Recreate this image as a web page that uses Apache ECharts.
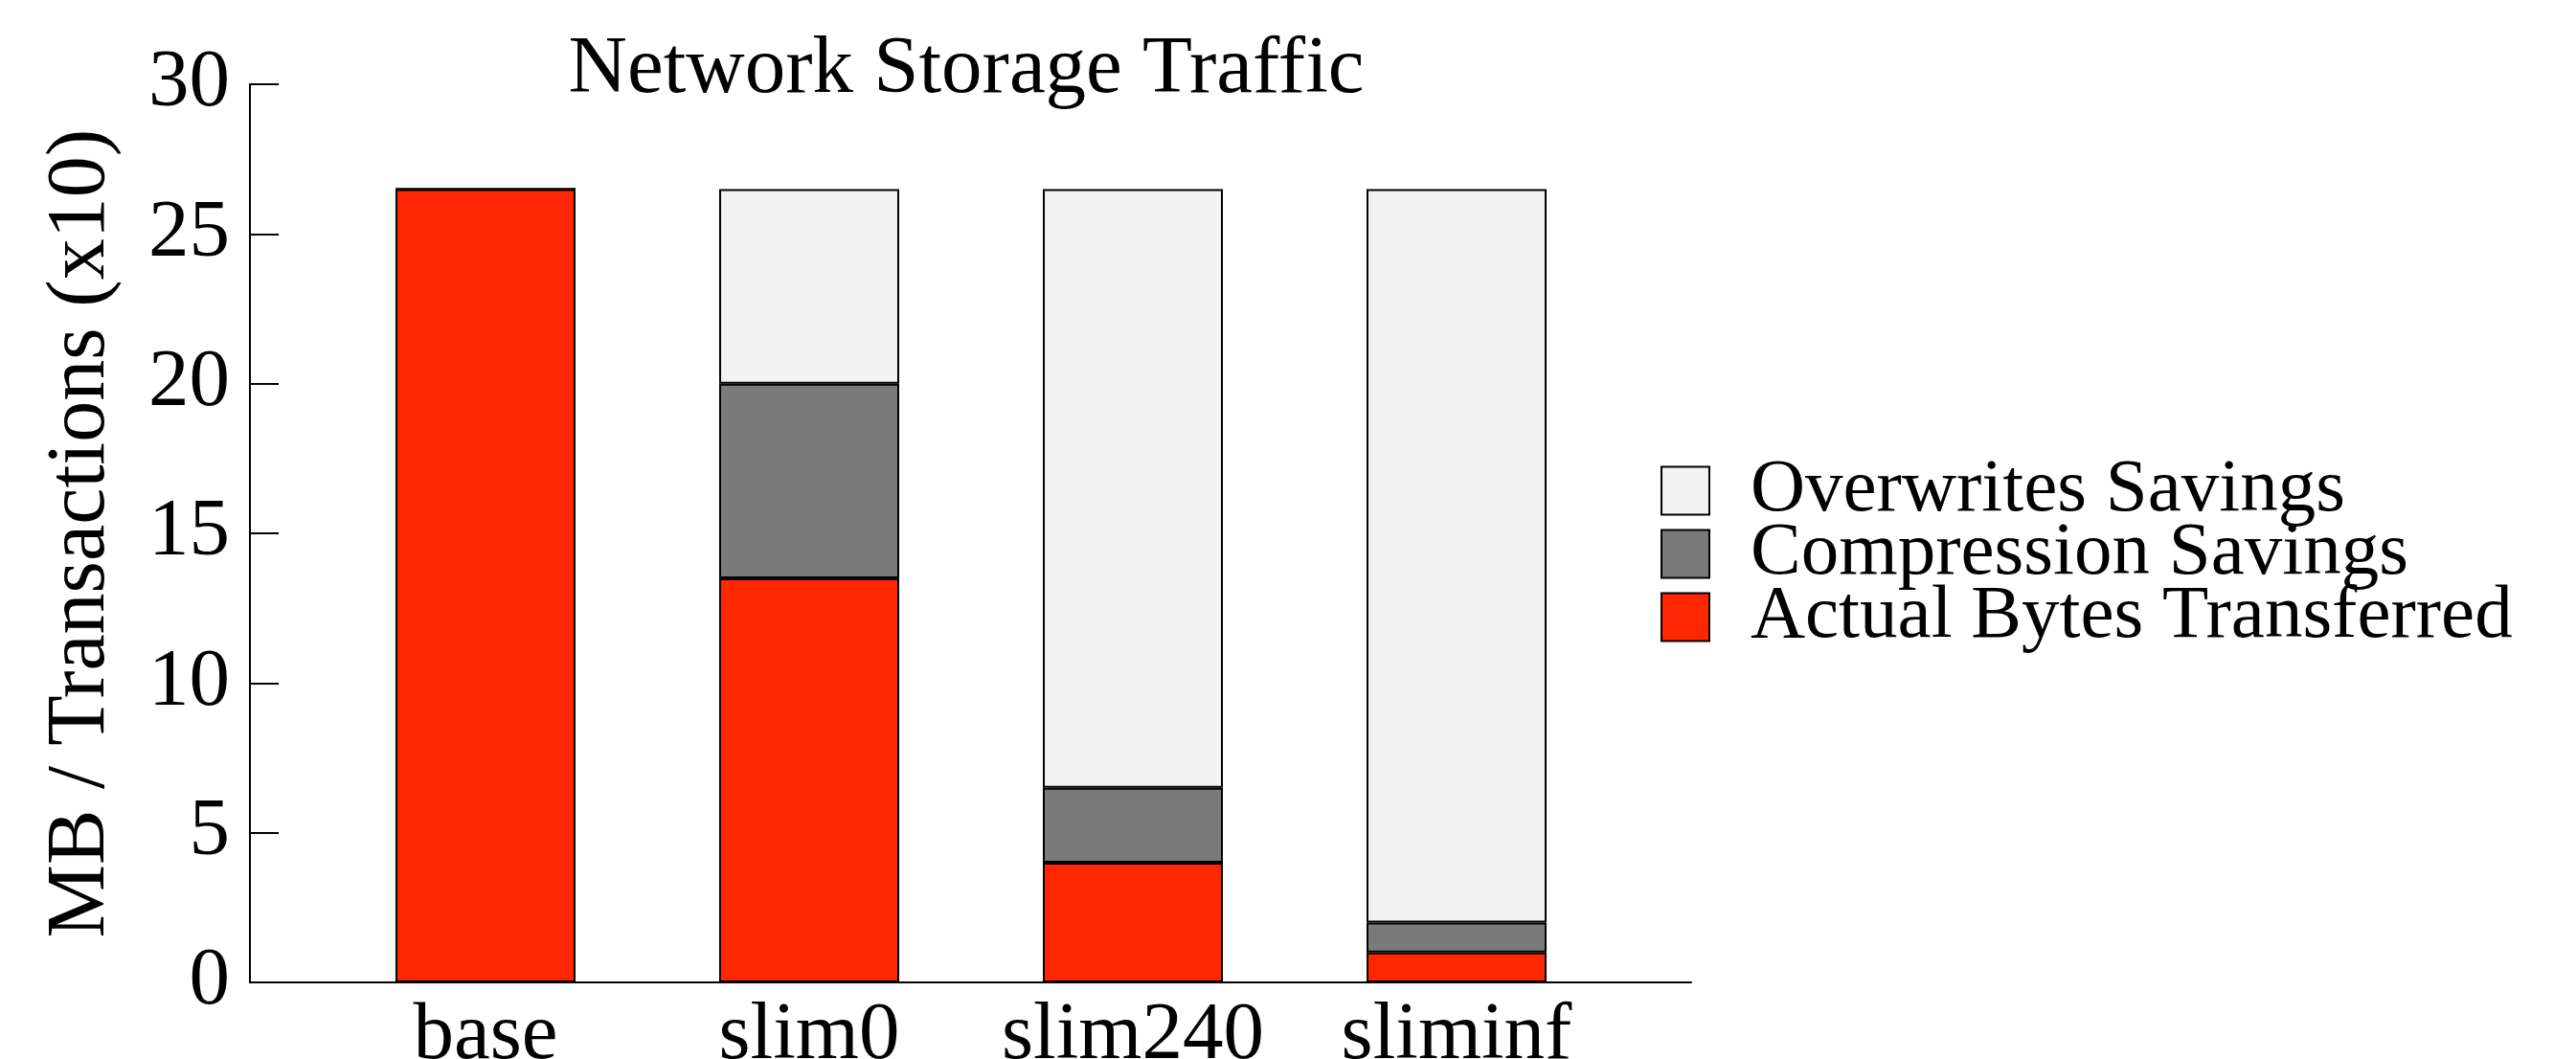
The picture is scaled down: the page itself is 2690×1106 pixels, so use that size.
<!DOCTYPE html>
<html>
<head>
<meta charset="utf-8">
<script src="https://cdn.jsdelivr.net/npm/echarts@6/dist/echarts.min.js"></script>
<style>
html,body{margin:0;padding:0;background:#fff;}
#chart{width:2690px;height:1106px;}
</style>
</head>
<body>
<div id="chart"></div>
<script>
const categories = ['base', 'slim0', 'slim240', 'sliminf'];
const actualBytes = [26.5, 13.5, 4, 1];
const compressionSavings = [0, 6.5, 2.5, 1];
const overwritesSavings = [0, 6.5, 20, 24.5];
const yTicks = [0, 5, 10, 15, 20, 25, 30];

const FONT = '"Liberation Serif", "DejaVu Serif", serif';

const chart = echarts.init(document.getElementById('chart'), null, {renderer: 'canvas'});

function barSeries(name, data, color) {
  return {
    name: name,
    type: 'bar',
    stack: 'total',
    xAxisIndex: 0,
    yAxisIndex: 0,
    barWidth: 188,
    data: data,
    itemStyle: {color: color, borderColor: '#000', borderWidth: 2},
    emphasis: {disabled: true},
    animation: false
  };
}

chart.setOption({
  backgroundColor: '#fff',
  animation: false,
  title: {
    text: 'Network Storage Traffic',
    left: 1004,
    top: 26,
    textAlign: 'center',
    textStyle: {fontFamily: FONT, fontSize: 85, fontWeight: 'normal', color: '#000'}
  },
  grid: [
    // bars grid: the x range of the plot is [-0.727, 3.727] in category units
    {left: 338, right: 1000, top: 88, bottom: 80, containLabel: false, outerBoundsMode: 'none'},
    // axes grid
    {left: 261, right: 924, top: 88, bottom: 80, containLabel: false, outerBoundsMode: 'none'}
  ],
  legend: {
    left: 1729,
    top: 468,
    orient: 'vertical',
    itemWidth: 50,
    itemHeight: 50,
    itemGap: -13,
    icon: 'rect',
    data: ['Overwrites Savings', 'Compression Savings', 'Actual Bytes Transferred'],
    textStyle: {fontFamily: FONT, fontSize: 79, color: '#000', padding: [0, 0, 0, 38]},
    selectedMode: false
  },
  xAxis: [
    {
      type: 'category',
      gridIndex: 0,
      data: categories,
      boundaryGap: true,
      axisLine: {show: false},
      axisTick: {show: false},
      splitLine: {show: false},
      axisLabel: {interval: 0, margin: 14, fontFamily: FONT, fontSize: 85, color: '#000'}
    },
    {
      type: 'value',
      gridIndex: 1,
      min: 0,
      max: 1,
      axisLine: {show: true, onZero: false, lineStyle: {color: '#000', width: 2}},
      axisTick: {show: false},
      axisLabel: {show: false},
      splitLine: {show: false}
    }
  ],
  yAxis: [
    {
      type: 'value',
      gridIndex: 0,
      min: 0,
      max: 30,
      interval: 5,
      show: false,
      splitLine: {show: false}
    },
    {
      type: 'value',
      gridIndex: 1,
      min: 0,
      max: 30,
      interval: 5,
      name: 'MB / Transactions (x10)',
      nameLocation: 'middle',
      nameGap: 133,
      nameTextStyle: {fontFamily: FONT, fontSize: 86, color: '#000'},
      splitLine: {show: false},
      axisLine: {show: true, onZero: false, lineStyle: {color: '#000', width: 2}},
      axisTick: {show: true, inside: true, length: 30, lineStyle: {color: '#000', width: 2}},
      axisLabel: {
        margin: 21,
        fontFamily: FONT,
        fontSize: 85,
        color: '#000',
        formatter: v => yTicks.includes(v) ? String(v) : ''
      }
    }
  ],
  series: [
    barSeries('Actual Bytes Transferred', actualBytes, '#ff2600'),
    barSeries('Compression Savings', compressionSavings, '#7a7a7a'),
    barSeries('Overwrites Savings', overwritesSavings, '#f2f2f2')
  ]
});
</script>
</body>
</html>
